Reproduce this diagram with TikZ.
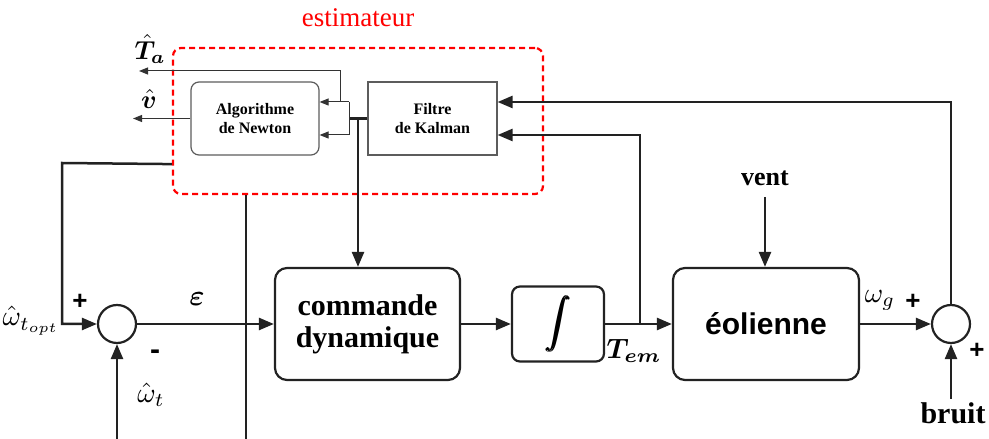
\documentclass[tikz,border=0pt]{standalone}
\usepackage{amsmath,bm,graphicx}
\usepackage{fontspec}
\setmainfont{Liberation Serif}
\setsansfont{Liberation Sans}
\usetikzlibrary{arrows.meta,positioning,calc}
\definecolor{cLine}{HTML}{222222}
\definecolor{cThin}{HTML}{333333}
\definecolor{cEst}{HTML}{FF0000}
\newcommand{\etiq}[2]{\scalebox{#1}{$#2$}}
\tikzset{
  blok/.style={draw=cLine, line width=2.2pt, rounded corners=12pt, align=center,
    font=\fontsize{30}{32}\selectfont\bfseries},
  estbox/.style={draw=cThin!80, line width=1.2pt, align=center,
    font=\fontsize{16}{19}\selectfont\bfseries},
  estim/.style={draw=cEst, line width=2.2pt, dash pattern=on 6pt off 4pt,
    rounded corners=8pt},
  somme/.style={circle, draw=cLine, line width=2.2pt, minimum size=38pt, inner sep=0pt},
  sig/.style={draw=cLine, line width=2.5pt},
  flow/.style={sig, -{Triangle[length=15pt,width=12pt]}},
  fin/.style={draw=cThin, line width=1pt},
  finflow/.style={fin, -{Triangle[length=9pt,width=7pt]}},
  signe/.style={font=\fontsize{26}{26}\selectfont\sffamily\bfseries},
  lbl/.style={font=\fontsize{10}{12}\selectfont, inner sep=0pt},
}
\begin{document}
\begin{tikzpicture}[x=1pt, y=1pt]
  \useasboundingbox (0,0) rectangle (989,439);
  % estimateur
  \node[font=\fontsize{27}{27}\selectfont, text=cEst] (titre) at (358,421) {estimateur};
  \node[estim, minimum width=370pt, minimum height=146pt] (est) at (358,318) {};
  \node[estbox, rounded corners=8pt, minimum width=128pt, minimum height=73pt] (newton) at (255,320.5) {Algorithme\\de Newton};
  \node[estbox, minimum width=129pt, minimum height=73pt] (kalman) at (432.5,320.5) {Filtre\\de Kalman};
  \coordinate (kj) at (358,320.5);
  \coordinate (b1) at (349,337);
  \coordinate (b2) at (349,304);
  \coordinate (ta) at (340,337);
  \coordinate (taout) at (139,368);
  \coordinate (vout) at (133,320.5);
  \draw[sig] (kalman.west) -- (b1 |- kj);
  \draw[fin] (b1) -- (b2);
  \draw[finflow] (b1) -- (b1 -| newton.east);
  \draw[finflow] (b2) -- (b2 -| newton.east);
  \draw[finflow] (ta) |- (taout);
  \draw[finflow] (newton.west) -- (vout);
  \node[lbl] at (150,390) {\etiq{2.6}{\hat{\bm{T}}_{\bm{a}}}};
  \node[lbl] at (149,340) {\etiq{2.6}{\hat{\bm{v}}}};
  % boucle principale
  \node[somme] (s1) at (117,115) {};
  \node[blok, minimum width=185pt, minimum height=112pt] (cmd) at (367.5,115) {commande\\dynamique};
  \node[blok, rounded corners=8pt, minimum width=92pt, minimum height=75pt] (int) at (558,115) {\fontsize{10}{12}\selectfont\etiq{2.5}{\displaystyle\bm{\int}}};
  \node[blok, font=\fontsize{30}{32}\selectfont\sffamily\bfseries, minimum width=186pt, minimum height=112pt] (eol) at (766,115) {éolienne};
  \node[somme] (s2) at (951,115) {};
  \draw[flow] (kj) -- (kj |- cmd.north);
  \draw[flow] (s1) -- (cmd);
  \draw[flow] (cmd) -- (int);
  \draw[flow] (int) -- (eol);
  \draw[flow] (eol) -- (s2);
  \coordinate (tj) at (640,115);
  \draw[flow] (tj) |- ([yshift=-16.5pt]kalman.east);
  \draw[flow] (s2.north) |- ([yshift=16.5pt]kalman.east);
  % entrees
  \coordinate (wo) at (62,276);
  \draw[flow] ([yshift=31pt]est.south west) -- (wo) |- (s1.west);
  \coordinate (wt) at (117,0);
  \draw[flow] (wt) -- (s1.south);
  \coordinate (bas) at (246,0);
  \draw[sig] (bas |- est.south) -- (bas);
  \node[font=\fontsize{26}{26}\selectfont\bfseries] (vent) at (765,261) {vent};
  \draw[flow] ([yshift=-8pt]vent.south) -- (vent.south |- eol.north);
  \node[font=\fontsize{30}{30}\selectfont\bfseries] (bruit) at (953,26) {bruit};
  \draw[flow] (bruit.north -| s2.south) -- (s2.south);
  % etiquettes
  \node[signe] at (80,137) {+};
  \node[signe, font=\fontsize{30}{30}\selectfont\sffamily\bfseries] at (155,84) {-};
  \node[signe] at (913,137) {+};
  \node[signe] at (977,88) {+};
  \node[lbl] at (31,118) {\etiq{2.8}{\hat{\omega}_{t_{\scriptscriptstyle opt}}}};
  \node[lbl] at (151,44) {\etiq{2.8}{\hat{\omega}_{t}}};
  \node[lbl] at (197,140) {\etiq{2.9}{\bm{\varepsilon}}};
  \node[lbl] at (634,88) {\etiq{2.8}{\bm{T_{em}}}};
  \node[lbl] at (880,139) {\etiq{2.8}{\omega_g}};
\end{tikzpicture}
\end{document}
